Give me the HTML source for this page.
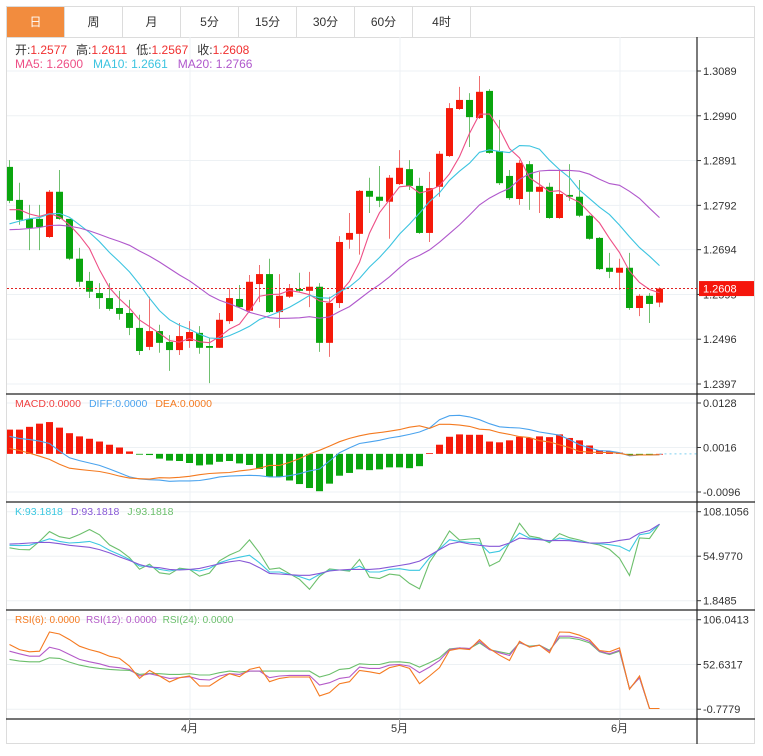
<!DOCTYPE html>
<html><head><meta charset="utf-8">
<style>
body{margin:0;background:#fff;width:763px;height:756px;overflow:hidden;font-family:"Liberation Sans","Noto Sans CJK SC",sans-serif;}
#wrap{position:absolute;left:6px;top:6px;width:749px;height:738px;border:1px solid #dcdcdc;box-sizing:border-box;}
.tabs{position:absolute;left:0;top:0;height:30px;width:747px;border-bottom:1px solid #dcdcdc;display:flex;}
.tab{width:58px;height:30px;line-height:30px;text-align:center;font-size:12px;color:#333;border-right:1px solid #dcdcdc;box-sizing:border-box;}
.tab.on{background:#f28c3e;color:#fff;}
svg{position:absolute;left:0;top:0;}
</style></head><body>
<div id="wrap">
<div class="tabs">
<div class="tab on">日</div>
<div class="tab">周</div>
<div class="tab">月</div>
<div class="tab">5分</div>
<div class="tab">15分</div>
<div class="tab">30分</div>
<div class="tab">60分</div>
<div class="tab">4时</div>
</div>
</div>
<svg id="c" width="763" height="756"></svg>
<script>
const history=[1.2740,1.2710,1.2700,1.2730,1.2750,1.2720,1.2700,1.2730,1.2740,1.2730,1.2700,1.2690,1.2720,1.2740,1.2750,1.2760,1.2790,1.2770,1.2790];
const openP=[1.2877,1.2804,1.2762,1.2762,1.2722,1.2822,1.2762,1.2674,1.2625,1.2598,1.2587,1.2565,1.2554,1.2521,1.2479,1.2514,1.2490,1.2472,1.2492,1.2510,1.2481,1.2477,1.2536,1.2585,1.2559,1.2618,1.2640,1.2556,1.2590,1.2607,1.2603,1.2612,1.2488,1.2576,1.2716,1.2729,1.2824,1.2811,1.2800,1.2839,1.2872,1.2835,1.2731,1.2833,1.2901,1.3005,1.3025,1.2985,1.3045,1.2912,1.2857,1.2806,1.2883,1.2822,1.2833,1.2764,1.2815,1.2811,1.2769,1.2720,1.2654,1.2643,1.2654,1.2565,1.2592,1.2577];
const highP=[1.2892,1.2842,1.2793,1.2793,1.2826,1.2870,1.2762,1.2698,1.2645,1.2620,1.2620,1.2603,1.2583,1.2550,1.2590,1.2528,1.2505,1.2532,1.2536,1.2525,1.2499,1.2554,1.2609,1.2616,1.2638,1.2660,1.2674,1.2640,1.2618,1.2643,1.2645,1.2620,1.2590,1.2724,1.2775,1.2826,1.2853,1.2879,1.2859,1.2914,1.2892,1.2853,1.2866,1.2912,1.3018,1.3054,1.3040,1.3078,1.3049,1.2981,1.2870,1.2892,1.2890,1.2866,1.2842,1.2870,1.2883,1.2848,1.2771,1.2722,1.2687,1.2674,1.2687,1.2596,1.2598,1.2611];
const lowP=[1.2797,1.2749,1.2693,1.2693,1.2720,1.2760,1.2671,1.2612,1.2587,1.2563,1.2559,1.2539,1.2505,1.2461,1.2472,1.2466,1.2426,1.2461,1.2477,1.2464,1.2399,1.2477,1.2530,1.2565,1.2556,1.2578,1.2554,1.2521,1.2587,1.2601,1.2567,1.2468,1.2457,1.2565,1.2696,1.2683,1.2775,1.2788,1.2718,1.2837,1.2826,1.2729,1.2711,1.2811,1.2899,1.3003,1.2921,1.2983,1.2906,1.2837,1.2804,1.2793,1.2782,1.2775,1.2762,1.2762,1.2802,1.2766,1.2716,1.2649,1.2631,1.2605,1.2561,1.2547,1.2532,1.2567];
const closeP=[1.2802,1.2760,1.2742,1.2744,1.2822,1.2762,1.2674,1.2623,1.2601,1.2587,1.2563,1.2552,1.2521,1.2470,1.2514,1.2488,1.2472,1.2503,1.2512,1.2477,1.2477,1.2539,1.2587,1.2567,1.2623,1.2640,1.2556,1.2592,1.2609,1.2603,1.2612,1.2488,1.2576,1.2711,1.2731,1.2824,1.2811,1.2802,1.2853,1.2875,1.2835,1.2731,1.2830,1.2906,1.3007,1.3025,1.2987,1.3043,1.2908,1.2841,1.2808,1.2886,1.2822,1.2833,1.2764,1.2817,1.2811,1.2769,1.2718,1.2651,1.2645,1.2654,1.2565,1.2592,1.2574,1.2608];
const priceTicks=["1.3089","1.2990","1.2891","1.2792","1.2694","1.2595","1.2496","1.2397"];
const macdBars=[0.0061,0.0061,0.0068,0.0076,0.0080,0.0066,0.0052,0.0044,0.0038,0.0031,0.0023,0.0016,0.0006,-0.0001,-0.0003,-0.0012,-0.0017,-0.0018,-0.0023,-0.0029,-0.0027,-0.0020,-0.0018,-0.0024,-0.0028,-0.0038,-0.0058,-0.0058,-0.0067,-0.0076,-0.0086,-0.0094,-0.0075,-0.0055,-0.0048,-0.0039,-0.0041,-0.0039,-0.0034,-0.0034,-0.0036,-0.0031,0.0002,0.0023,0.0043,0.0049,0.0048,0.0048,0.0031,0.0029,0.0034,0.0043,0.0040,0.0044,0.0042,0.0049,0.0040,0.0034,0.0021,0.0009,0.0007,0.0003,-0.0003,-0.0001,-0.0001,0];
const diffLine=[0.0044,0.0039,0.0036,0.0032,0.0026,0.0007,-0.0010,-0.0017,-0.0023,-0.0029,-0.0038,-0.0048,-0.0058,-0.0063,-0.0065,-0.0066,-0.0069,-0.0068,-0.0068,-0.0067,-0.0063,-0.0058,-0.0056,-0.0055,-0.0054,-0.0055,-0.0058,-0.0058,-0.0055,-0.0050,-0.0043,-0.0038,-0.0018,0.0003,0.0015,0.0026,0.0030,0.0034,0.0040,0.0044,0.0049,0.0055,0.0065,0.0086,0.0096,0.0097,0.0093,0.0086,0.0076,0.0068,0.0066,0.0065,0.0061,0.0055,0.0051,0.0047,0.0036,0.0023,0.0015,0.0008,0.0007,0.0003,-0.0005,-0.0003,-0.0003,-0.0002];
const macdTicks=["0.0128","0.0016","-0.0096"];
const kLine=[68.0,67.6,68.0,71.9,75.8,72.7,70.7,71.5,72.7,68.7,62.1,56.9,51.0,43.2,43.2,39.2,37.3,39.2,39.2,37.3,40.4,47.1,51.0,53.8,56.2,47.1,36.1,36.1,33.3,30.6,26.6,33.3,38.1,38.5,38.5,43.2,36.1,36.1,39.2,40.0,38.1,38.1,53.0,63.6,74.7,72.7,71.5,70.7,58.9,60.9,70.7,82.5,76.6,75.4,72.7,76.6,74.7,72.7,70.7,69.9,68.7,66.8,60.9,80.6,82.5,93.2];
const dLine=[69.5,69.9,70.7,71.5,71.5,69.9,68.0,66.8,65.6,62.8,58.9,54.2,49.9,45.1,42.0,41.2,39.2,38.5,39.2,40.4,43.2,45.9,48.3,49.9,47.1,41.2,34.5,33.7,32.9,32.2,32.2,34.5,37.3,38.5,39.2,39.2,39.2,40.0,42.0,43.9,45.9,49.1,55.8,62.8,69.5,71.9,69.5,68.0,66.8,66.8,70.7,76.6,75.4,74.7,73.5,73.9,73.5,71.9,70.7,70.7,71.5,73.9,75.4,82.5,85.7,93.2];
const kdjTicks=["108.1056","54.9770","1.8485"];
const rsi6=[76.4,70.4,67.7,68.5,91.4,89.0,82.3,74.4,70.4,67.3,62.5,59.8,50.7,36.0,45.5,38.8,31.7,36.8,38.8,26.9,26.9,34.8,41.6,38.0,46.7,49.5,32.1,36.0,37.6,37.6,37.6,15.1,19.0,29.7,32.1,45.5,43.9,41.6,48.7,51.5,47.9,29.7,38.8,48.7,69.3,71.6,70.4,82.3,71.6,63.7,57.4,80.3,73.2,75.6,66.5,91.4,91.0,87.5,82.3,69.3,67.7,72.4,23.0,38.8,0,0];
const rsi12=[68.5,65.3,62.5,62.5,73.2,70.4,64.5,58.6,55.8,53.4,49.9,48.7,46.7,38.8,41.6,38.8,36.0,36.8,38.0,34.8,34.1,38.8,41.6,40.8,44.7,44.7,36.8,38.8,39.6,39.6,39.6,28.1,30.9,36.0,37.6,49.5,47.9,47.9,51.8,52.6,50.7,42.8,49.5,57.4,70.4,72.4,71.6,80.3,70.4,66.5,63.3,79.1,73.6,75.6,68.5,86.3,86.3,84.3,80.3,68.5,65.3,69.6,23.8,36.8,0,0];
const rsi24=[58.6,56.6,55.8,55.8,60.6,59.8,55.4,51.8,49.5,47.9,46.7,45.9,45.5,40.8,42.0,41.6,40.8,40.8,41.6,40.0,40.0,42.8,44.7,43.5,44.7,44.7,44.7,44.7,44.7,44.7,44.7,37.6,40.8,46.7,47.9,53.4,52.6,52.6,55.4,55.8,54.6,49.5,54.6,60.6,71.2,72.4,71.6,78.4,70.4,67.7,65.3,78.4,74.4,75.6,69.6,84.3,84.3,82.3,78.4,67.7,64.5,68.5,23.8,36.8,0,0];
const rsiTicks=["106.0413","52.6317","-0.7779"];
const monthLabels=["4月","5月","6月"];
const monthIdx=[18,39,61];

const NS="http://www.w3.org/2000/svg";
const svg=document.getElementById('c');
function el(tag,attrs,parent,name,text){const e=document.createElementNS(NS,tag);for(const k in attrs)e.setAttribute(k,attrs[k]);

if(text!==undefined)e.textContent=text;(parent||svg).appendChild(e);return e;}
const L=7,R=697,W=755;
const xAt=i=>9.5+10*i;
const pTop=parseFloat(priceTicks[0]),pBot=parseFloat(priceTicks[priceTicks.length-1]);
const yP=p=>71+(pTop-p)*(313/(pTop-pBot));
const mT=parseFloat(macdTicks[0]),mB=parseFloat(macdTicks[2]);
const yM=v=>403+(mT-v)*(89/(mT-mB));
const kT=parseFloat(kdjTicks[0]),kB=parseFloat(kdjTicks[2]);
const yK=v=>511.7+(kT-v)*(89/(kT-kB));
const rT=parseFloat(rsiTicks[0]),rB=parseFloat(rsiTicks[2]);
const yR=v=>619.7+(rT-v)*(89.5/(rT-rB));

const defs=el('defs',{},svg,'defs');
const cp=el('clipPath',{id:'cl'},defs,'clip');
el('rect',{x:L,y:37,width:R-L,height:700},cp,'clip-rect');

function hgrid(ys,name){ys.forEach(y=>el('line',{x1:L,x2:R,y1:y,y2:y,stroke:'#edf1f4','stroke-width':1},svg,name));}
hgrid(priceTicks.map(t=>yP(parseFloat(t))),'price-gridline');
hgrid(macdTicks.map(t=>yM(parseFloat(t))),'macd-gridline');
hgrid(kdjTicks.map(t=>yK(parseFloat(t))),'kdj-gridline');
hgrid(rsiTicks.map(t=>yR(parseFloat(t))),'rsi-gridline');
monthIdx.forEach(i=>{const x=xAt(i)+0.5;el('line',{x1:x,x2:x,y1:37,y2:719,stroke:'#edf1f4','stroke-width':1},svg,'month-gridline');});

[394,502,610,719].forEach(y=>el('line',{x1:L-1,x2:W,y1:y,y2:y,stroke:'#222','stroke-width':1.2},svg,'panel-separator'));
el('line',{x1:R,x2:R,y1:37,y2:744,stroke:'#222','stroke-width':1.2},svg,'y-axis-line');

const g=el('g',{'clip-path':'url(#cl)'},svg,'plot-area');
const RED='#f51a0a',GREEN='#0aa50e';
for(let i=0;i<closeP.length;i++){
 const up=closeP[i]>=openP[i];const col=up?RED:GREEN;const x=xAt(i);
 el('line',{x1:x,x2:x,y1:yP(highP[i]),y2:yP(lowP[i]),stroke:up?'#f07070':'#70c070','stroke-width':1},g,'candle-wick');
 const y1=yP(Math.max(openP[i],closeP[i])),y2=yP(Math.min(openP[i],closeP[i]));
 el('rect',{x:x-3.5,y:y1,width:7,height:Math.max(1.5,y2-y1),fill:col},g,'candle-body');
}
const full=history.concat(closeP);const H=history.length;
function ma(n){return closeP.map((_,i)=>{let s=0;for(let k=0;k<n;k++)s+=full[H+i-k];return s/n;});}
function line(vals,ys,col,name){const d=vals.map((v,i)=>(i?'L':'M')+xAt(i).toFixed(1)+','+ys(v).toFixed(1)).join('');el('path',{d:d,fill:'none',stroke:col,'stroke-width':1.1},g,name);}
line(ma(5),yP,'#ee4f86','ma5-line');
line(ma(10),yP,'#3cc4e0','ma10-line');
line(ma(20),yP,'#b058cc','ma20-line');
const last=closeP[closeP.length-1];
el('line',{x1:L,x2:R,y1:yP(last),y2:yP(last),stroke:'#e02020','stroke-width':1,'stroke-dasharray':'2,2'},svg,'current-price-line');

const zero=yM(0);
macdBars.forEach((v,i)=>{const y=yM(v);el('rect',{x:xAt(i)-3.5,y:Math.min(y,zero),width:7,height:Math.max(0.8,Math.abs(y-zero)),fill:v>=0?RED:GREEN},g,'macd-bar');});
const deaLine=diffLine.map((d,i)=>d-macdBars[i]/2);
line(diffLine,yM,'#4aa3ee','diff-line');
line(deaLine,yM,'#f47a20','dea-line');
el('line',{x1:xAt(macdBars.length-1),x2:R,y1:zero,y2:zero,stroke:'#7fd0ef','stroke-width':1,'stroke-dasharray':'2,3'},svg,'macd-zero-line');

const jLine=kLine.map((k,i)=>3*k-2*dLine[i]);
line(jLine,yK,'#6cbf6c','j-line');
line(kLine,yK,'#3cc8e0','k-line');
line(dLine,yK,'#8758d6','d-line');

line(rsi24,yR,'#6cbf6c','rsi24-line');
line(rsi12,yR,'#b45ac8','rsi12-line');
line(rsi6,yR,'#f57a20','rsi6-line');

function ticks(arr,ys,name){arr.forEach(t=>{const y=ys(parseFloat(t));el('line',{x1:R,x2:R+4,y1:y,y2:y,stroke:'#333'},svg,name+'-tick');el('text',{x:R+6,y:y+4,'font-size':11,fill:'#333','font-family':'Liberation Sans, sans-serif'},svg,name+'-label',t);});}
ticks(priceTicks,yP,'price-axis');ticks(macdTicks,yM,'macd-axis');ticks(kdjTicks,yK,'kdj-axis');ticks(rsiTicks,yR,'rsi-axis');
const ty=yP(last);
el('rect',{x:R+2,y:ty-7.5,width:W-R-3,height:15,fill:'#f5160c'},svg,'price-tag');
el('text',{x:R+6,y:ty+4,'font-size':11,fill:'#fff','font-family':'Liberation Sans, sans-serif'},svg,'price-tag-text',last.toFixed(4));
monthIdx.forEach((i,k)=>{el('line',{x1:xAt(i),x2:xAt(i),y1:719,y2:723,stroke:'#999'},svg,'x-tick');el('text',{x:xAt(i),y:732,'font-size':11,fill:'#333','text-anchor':'middle','font-family':'Liberation Sans, Noto Sans CJK SC, sans-serif'},svg,'x-axis-label',monthLabels[k]);});

function legend(y,items,name,fs){const t=el('text',{x:15,y:y,'font-size':fs,'font-family':'Liberation Sans, Noto Sans CJK SC, sans-serif'},svg,name);
items.forEach(it=>{const s=document.createElementNS(NS,'tspan');s.setAttribute('fill',it[1]);if(it[2])s.setAttribute('dx',it[2]);s.textContent=it[0];


t.appendChild(s);});}
legend(54,[['开:','#333'],['1.2577','#f03030'],['高:','#333',9],['1.2611','#f03030'],['低:','#333',9],['1.2567','#f03030'],['收:','#333',9],['1.2608','#f03030']],'ohlc-legend',12);
legend(68,[['MA5: 1.2600','#ee4f86'],['MA10: 1.2661','#3cc4e0',10],['MA20: 1.2766','#b058cc',10]],'ma-legend',12);
legend(407,[['MACD:0.0000','#f04040'],['DIFF:0.0000','#4aa3ee',8],['DEA:0.0000','#f47a20',8]],'macd-legend',10.5);
legend(515,[['K:93.1818','#3cc8e0'],['D:93.1818','#8758d6',8],['J:93.1818','#6cbf6c',8]],'kdj-legend',10.5);
legend(623,[['RSI(6): 0.0000','#f57a20'],['RSI(12): 0.0000','#b45ac8',6],['RSI(24): 0.0000','#6cbf6c',6]],'rsi-legend',10);
</script>
</body></html>
